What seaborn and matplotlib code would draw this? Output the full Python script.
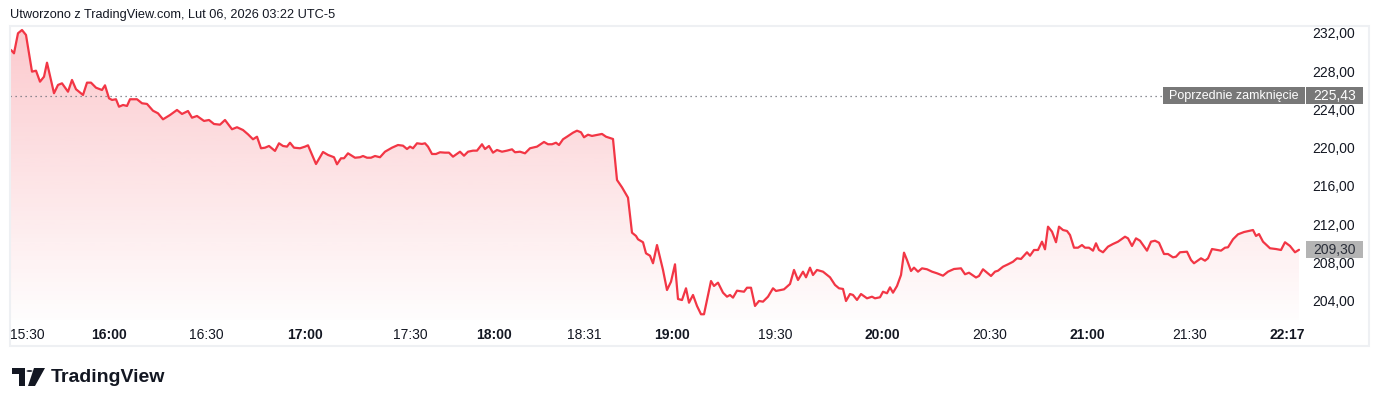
import numpy as np
import matplotlib
matplotlib.use('Agg')
import matplotlib.pyplot as plt
import seaborn as sns
from matplotlib.colors import LinearSegmentedColormap
from matplotlib.patches import PathPatch, Rectangle, Circle, Polygon
from matplotlib.transforms import blended_transform_factory

# bar position along the session (index axis, not clock time) and last price
bar_idx = [
    1, 4, 8, 12, 16, 22, 26, 30, 34, 37,
    44, 48, 52, 58, 62, 66, 73, 77, 81, 86,
    92, 95, 99, 102, 106, 109, 113, 117, 120, 127,
    132, 137, 143, 148, 153, 160, 167, 172, 178, 182,
    187, 194, 199, 204, 210, 215, 222, 227, 233, 238,
    243, 247, 251, 255, 259, 265, 269, 273, 277, 280,
    284, 290, 295, 298, 306, 313, 318,
    324, 327, 331, 334, 338, 345, 350, 353, 357, 361,
    365, 370, 375, 382, 388, 393, 397, 400, 403, 407,
    412, 415, 418, 422, 426, 430, 435, 439, 443, 450,
    454, 458, 463, 467, 472, 475, 479, 483, 487, 492,
    497, 502, 505, 510, 515, 520, 527, 534, 538, 542,
    546, 549, 553, 557, 563, 567, 571, 574, 578, 582,
    587, 592, 596, 603, 607, 612, 618, 622, 626, 628,
    633, 636, 640, 643, 647,
    653, 657, 661, 665, 668, 672, 676, 679, 683, 687,
    691, 694, 701, 704, 708, 713, 717, 720, 723, 727,
    734, 737, 741, 745, 749, 753, 758, 763, 766, 774,
    780, 784, 788, 793, 796, 800, 803, 807, 813, 820,
    825, 829, 833, 836, 840, 843, 847, 851, 857, 862,
    865, 870, 873, 877, 880, 883, 887, 891, 894, 897,
    901, 904, 908, 912, 917, 922, 927, 933, 938, 944,
    951, 955, 959, 966, 969, 973, 981, 985, 988, 993,
    998, 1003, 1007, 1011, 1017, 1020, 1024, 1028, 1032, 1035,
    1038, 1042, 1046, 1049, 1053, 1057, 1060, 1064, 1068, 1072,
    1075, 1079, 1083, 1086, 1089, 1093, 1098, 1103, 1108, 1115,
    1118, 1122, 1126, 1130, 1137, 1141, 1145, 1149, 1154, 1158,
    1163, 1166, 1170, 1177, 1181, 1184, 1191, 1195, 1198, 1202,
    1207, 1211, 1215, 1218, 1223, 1228, 1234, 1240, 1243, 1246,
    1249, 1253, 1260, 1266, 1271, 1275, 1280, 1285, 1289,
]
price = [
    230.22, 229.87, 231.97, 232.31, 231.79, 227.95, 228.05, 226.90, 227.42, 228.89,
    225.69, 226.56, 226.73, 225.85, 227.08, 226.11, 225.51, 226.80, 226.80, 226.27,
    226.03, 226.52, 225.16, 224.99, 225.06, 224.28, 224.46, 224.36, 225.06, 225.06,
    224.64, 224.57, 223.86, 223.59, 222.96, 223.41, 223.94, 223.52, 223.83, 223.13,
    223.31, 222.79, 222.89, 222.47, 222.40, 222.89, 221.92, 222.13, 221.84, 221.39,
    220.87, 221.14, 219.93, 219.99, 220.17, 219.65, 220.45, 220.17, 220.10, 220.51,
    219.99, 219.93, 220.10, 220.24, 218.28, 219.54, 219.23,
    218.99, 218.25, 218.88, 218.88, 219.40, 218.94, 218.99, 219.12, 218.94, 218.94,
    219.12, 218.99, 219.57, 219.99, 220.27, 220.20, 219.85, 220.10, 219.93, 220.45,
    220.38, 220.45, 220.10, 219.33, 219.33, 219.51, 219.47, 219.47, 219.05, 219.57,
    219.15, 219.57, 219.68, 219.68, 220.35, 219.85, 220.17, 219.47, 219.75, 219.57,
    219.68, 219.82, 219.51, 219.57, 219.40, 219.93, 220.10, 220.59, 220.35, 220.35,
    220.51, 220.27, 220.87, 221.14, 221.56, 221.77, 221.60, 221.08, 221.35, 221.22,
    221.32, 221.43, 221.14, 220.90, 216.61, 215.84, 214.76, 211.09, 210.75, 210.40,
    210.09, 208.93, 208.68, 207.89, 209.80,
    207.19, 205.09, 205.96, 207.78, 204.15, 204.04, 205.27, 203.76, 204.57, 203.42,
    202.55, 202.55, 206.03, 205.51, 205.86, 204.81, 204.39, 204.57, 204.29, 205.02,
    204.91, 205.33, 205.33, 203.42, 203.94, 203.87, 204.39, 205.27, 204.99, 205.16,
    205.72, 207.19, 206.14, 207.01, 206.42, 207.43, 206.66, 207.19, 207.01, 206.42,
    205.62, 205.27, 205.20, 203.94, 204.67, 204.57, 204.05, 204.67, 204.22, 204.39,
    204.22, 204.33, 204.91, 204.75, 205.37, 204.81, 205.51, 206.66, 209.00, 208.23,
    207.08, 207.43, 207.01, 207.36, 207.26, 207.01, 206.84, 206.59, 207.01, 207.29,
    207.36, 206.74, 206.90, 206.40, 206.56, 207.26, 206.56, 207.01, 207.11, 207.53,
    207.78, 208.05, 208.41, 208.34, 209.04, 208.68, 209.28, 209.28, 210.15, 209.35,
    211.72, 211.20, 210.09, 211.72, 211.37, 211.27, 210.85, 209.52, 209.52, 209.80,
    209.52, 209.52, 209.21, 209.98, 209.28, 209.04, 209.63, 209.91, 210.15, 210.67,
    210.50, 209.70, 210.50, 210.25, 209.21, 210.15, 210.25, 210.04, 208.86, 208.86,
    208.51, 208.58, 209.04, 209.10, 208.23, 207.89, 208.41, 208.16, 208.41, 209.38,
    209.28, 209.21, 209.52, 209.56, 210.40, 210.92, 211.16, 211.30, 211.37, 210.75,
    210.95, 210.15, 209.46, 209.38, 209.28, 210.09, 209.70, 209.04, 209.30,
]
assert len(bar_idx) == len(price)

tick_bars = [17, 99, 196, 295, 400, 484, 574, 662, 765, 872, 980, 1077, 1180, 1277]
tick_labels = ['15:30', '16:00', '16:30', '17:00', '17:30', '18:00', '18:31',
               '19:00', '19:30', '20:00', '20:30', '21:00', '21:30', '22:17']
tick_bold = [False, True, False, True, False, True, False,
             True, False, True, False, True, False, True]
price_ticks = [204, 208, 212, 216, 220, 224, 228, 232]
prev_close = 225.43
last_price = 209.30
title_text = 'Utworzono z TradingView.com, Lut 06, 2026 03:22 UTC-5'

LINE = '#F23645'
TXT = '#131722'
W, H = 1380, 407

sns.set_style('white')
plt.rcParams['font.family'] = ['Liberation Sans', 'DejaVu Sans']

fig = plt.figure(figsize=(W / 100, H / 100), dpi=100)
fig.patch.set_facecolor('white')

def fx(px):
    return px / W

def fy(py):
    return 1 - py / H

ax = fig.add_axes([fx(10), fy(320), (1300 - 10) / W, (320 - 26) / H])
ylo, yhi = 201.95, 232.73
ax.set_xlim(0, 1290)
ax.set_ylim(ylo, yhi)

# gradient area under the line
rgb = matplotlib.colors.to_rgb(LINE)
cmap = LinearSegmentedColormap.from_list('area', [(*rgb, 0.01), (*rgb, 0.27)])
grad = np.linspace(0, 1, 256).reshape(-1, 1)
im = ax.imshow(grad, aspect='auto', cmap=cmap, origin='lower',
               extent=[0, 1290, ylo, yhi], zorder=1)
poly = ax.fill_between(bar_idx, price, ylo, facecolor='none', edgecolor='none')
clip = PathPatch(poly.get_paths()[0], transform=ax.transData, fc='none', ec='none')
ax.add_patch(clip)
im.set_clip_path(clip)

sns.lineplot(x=bar_idx, y=price, ax=ax, color=LINE, linewidth=1.6,
             sort=False, estimator=None, zorder=3)

# previous close
ax.axhline(prev_close, color='#6a6d78', linestyle=(0, (1, 3)), linewidth=0.9, zorder=2)

for s in ax.spines.values():
    s.set_visible(False)

ax.yaxis.tick_right()
ax.set_yticks(price_ticks)
ax.set_yticklabels([f'{v:.2f}'.replace('.', ',') for v in price_ticks])
ax.tick_params(axis='y', length=0, pad=9, labelsize=10, labelcolor=TXT)
ax.set_xticks(tick_bars)
ax.set_xticklabels(tick_labels)
ax.tick_params(axis='x', length=0, pad=6, labelsize=10, labelcolor=TXT)
for lab, b in zip(ax.get_xticklabels(), tick_bold):
    lab.set_fontweight('bold' if b else 'normal')
ax.set_xlabel('')
ax.set_ylabel('')
ax.grid(False)

# price labels on the right scale
bt = blended_transform_factory(ax.transAxes, ax.transData)
hh = 17 / 9.55
x_box0 = (1163 - 10) / 1290
x_box1 = (1305 - 10) / 1290
x_p0 = (1306 - 10) / 1290
x_p1 = (1363 - 10) / 1290
ax.add_patch(Rectangle((x_box0, prev_close - hh / 2), x_box1 - x_box0, hh,
                       transform=bt, facecolor='#787878', edgecolor='none',
                       clip_on=False, zorder=5))
ax.text((x_box0 + x_box1) / 2, prev_close, 'Poprzednie zamknięcie', transform=bt,
        ha='center', va='center', color='white', fontsize=9, zorder=6, clip_on=False)
ax.add_patch(Rectangle((x_p0, prev_close - hh / 2), x_p1 - x_p0, hh,
                       transform=bt, facecolor='#787878', edgecolor='none',
                       clip_on=False, zorder=5))
ax.text((x_p0 + x_p1) / 2, prev_close, f'{prev_close:.2f}'.replace('.', ','),
        transform=bt, ha='center', va='center', color='white', fontsize=10,
        zorder=6, clip_on=False)
ax.add_patch(Rectangle((x_p0, last_price - hh / 2), x_p1 - x_p0, hh,
                       transform=bt, facecolor='#b4b4b4', edgecolor='none',
                       clip_on=False, zorder=5))
ax.text((x_p0 + x_p1) / 2, last_price, f'{last_price:.2f}'.replace('.', ','),
        transform=bt, ha='center', va='center', color='#2a2e39', fontsize=10,
        zorder=6, clip_on=False)

# pane frame
fig.add_artist(Rectangle((fx(10), fy(346)), (1369 - 10) / W, (346 - 26) / H,
                         transform=fig.transFigure, fill=False,
                         edgecolor='#eef0f3', linewidth=1.5))

fig.text(fx(10), fy(15), title_text, ha='left', va='center', fontsize=9.2, color=TXT)

# TradingView logo
k = '#131722'
fig.add_artist(Polygon([(fx(12), fy(368)), (fx(25), fy(368)), (fx(25), fy(386)),
                        (fx(19), fy(386)), (fx(19), fy(374)), (fx(12), fy(374))],
                       closed=True, transform=fig.transFigure, facecolor=k, edgecolor='none'))
fig.add_artist(Circle((fx(29.5), fy(371)), 3 / W, transform=fig.transFigure,
                      facecolor=k, edgecolor='none'))
fig.add_artist(Polygon([(fx(34), fy(368)), (fx(45), fy(368)), (fx(35), fy(386)),
                        (fx(28), fy(386))],
                       closed=True, transform=fig.transFigure, facecolor=k, edgecolor='none'))
fig.text(fx(51), fy(377), 'TradingView', ha='left', va='center', fontsize=14,
         fontweight='bold', color=k)

fig.savefig('out.png', dpi=100, facecolor='white')
